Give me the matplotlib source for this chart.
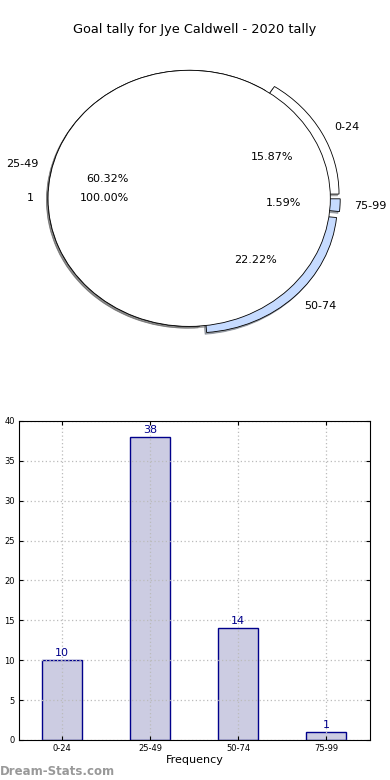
import numpy as np
import matplotlib
matplotlib.use('Agg')
import matplotlib.pyplot as plt

# data
ranges = ['0-24', '25-49', '50-74', '75-99']
tally = [10, 38, 14, 1]
inner_labels = ['1']
inner_vals = [1]

pie_colors = ['white', 'white', '#c6dbff', '#c6dbff']
explode = [0.07, 0.0, 0.07, 0.07]
shadow = dict(ox=-0.008, oy=-0.01, shade=0.6)

fig = plt.figure(figsize=(3.9, 7.8), dpi=100)
fig.suptitle('Goal tally for Jye Caldwell - 2020 tally', fontsize=9.3, y=0.97)

# pie
ax1 = fig.add_axes([0.0146, 0.5487, 0.941, 0.394])
ax1.pie(tally, labels=ranges, colors=pie_colors, explode=explode,
        autopct='%.2f%%', shadow=shadow, startangle=0,
        wedgeprops=dict(linewidth=0.6, edgecolor='black'),
        textprops=dict(fontsize=8))
ax1.pie(inner_vals, labels=inner_labels, colors=['white'], radius=1.0,
        autopct='%.2f%%', shadow=shadow, startangle=0,
        wedgeprops=dict(linewidth=0.6, edgecolor='black'),
        textprops=dict(fontsize=8))
ax1.set_aspect('auto')
ax1.set_xlim(-1.3, 1.3)
ax1.set_ylim(-1.2, 1.2)
ax1.axis('off')

# bars
ax2 = fig.add_axes([0.0487, 0.0513, 0.9, 0.409])
x = np.arange(len(ranges))
bars = ax2.bar(x, tally, width=0.45, color='#cccce2', edgecolor='#00008b', linewidth=1.0)
for b, v in zip(bars, tally):
    ax2.text(b.get_x() + b.get_width() / 2, v + 0.3, str(v), ha='center', va='bottom',
             color='#00008b', fontsize=8)
ax2.set_xlim(-0.49, 3.5)
ax2.set_ylim(0, 40)
ax2.set_yticks(range(0, 41, 5))
ax2.set_xticks(x)
ax2.set_xticklabels(ranges)
ax2.tick_params(labelsize=6, direction='in', length=3, top=True, right=True, pad=3)
ax2.grid(True, linestyle=(0, (1, 2)), color='#bbbbbb', linewidth=0.9)
ax2.set_axisbelow(False)
for sp in ax2.spines.values():
    sp.set_zorder(5)
ax2.set_xlabel('Frequency', fontsize=8, labelpad=1)

fig.text(0.0, 0.007, 'Dream-Stats.com', fontsize=8.5, color='#999999', fontweight='bold')

fig.savefig('out.png', dpi=100)
